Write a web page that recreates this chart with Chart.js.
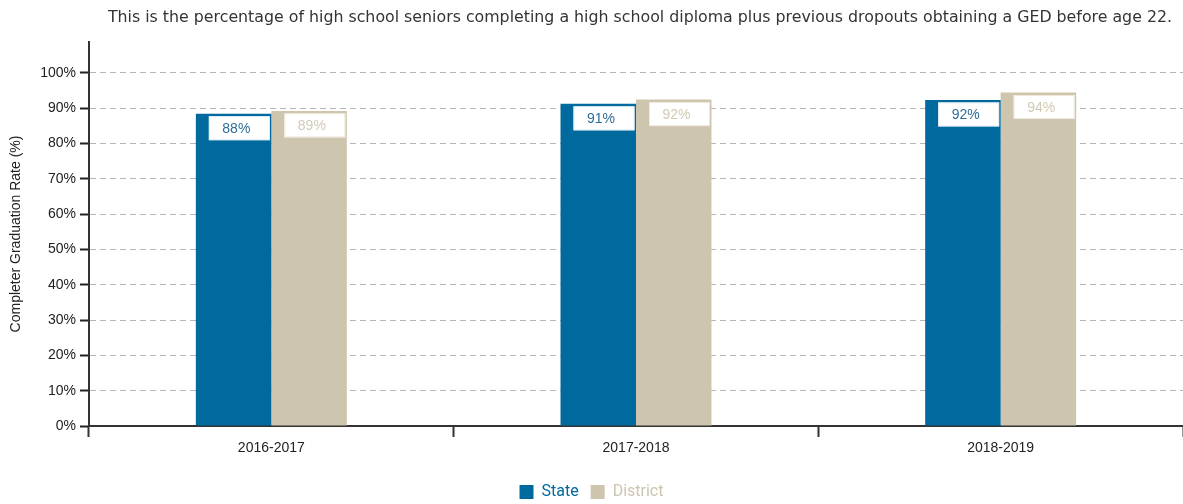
<!DOCTYPE html>
<html>
<head>
<meta charset="utf-8">
<script src="https://cdn.jsdelivr.net/npm/chart.js@4.4.1/dist/chart.umd.min.js"></script>
<style>
  body { margin: 0; background: #fff; }
  #wrap { width: 1183px; height: 504px; }
</style>
</head>
<body>
<div id="wrap"><canvas id="gradChart"></canvas></div>
<script>
// Data

let years = ["2016-2017", "2017-2018", "2018-2019"];
let stateRates = [88.4, 91.2, 92.3];
let districtRates = [89.2, 92.4, 94.4];
let yTickValues = [0, 10, 20, 30, 40, 50, 60, 70, 80, 90, 100];

let note = "This is the percentage of high school seniors completing a high school diploma plus previous dropouts obtaining a GED before age 22.";

let stateColor = "#006a9e";
let districtColor = "#cdc5ad";

// Subtitle drawn at the top right
let notePlugin = {
  id: "notePlugin",
  afterDraw(chart) {
    let ctx = chart.ctx;
    ctx.save();
    ctx.font = "15.8px 'DejaVu Sans'";
    ctx.fillStyle = "#333";
    ctx.textAlign = "right";
    ctx.textBaseline = "middle";
    ctx.fillText(note, 1172, 18);
    ctx.restore();
  },
};

// White value boxes at the top of each bar
let valueBoxPlugin = {
  id: "valueBoxPlugin",
  afterDatasetsDraw(chart) {
    let ctx = chart.ctx;
    chart.data.datasets.forEach((ds, i) => {
      let meta = chart.getDatasetMeta(i);
      meta.data.forEach((bar, j) => {
        let right = bar.x + bar.width / 2 - 1.5;
        let w = 61, h = 24;
        let x = right - w, y = bar.y + 2.5;
        ctx.save();
        ctx.fillStyle = "#fff";
        ctx.fillRect(x, y, w, h);
        ctx.strokeStyle = ds.boxBorder;
        ctx.lineWidth = 1;
        ctx.strokeRect(x + 0.5, y + 0.5, w - 1, h - 1);
        ctx.font = "14px 'Liberation Sans', Arial";
        ctx.fillStyle = ds.labelColor;
        ctx.textAlign = "center";
        ctx.textBaseline = "middle";
        ctx.fillText(Math.round(ds.data[j]) + "%", x + w / 2 - 3, y + h / 2 + 1);
        ctx.restore();
      });
    });
  },
};

var ctx = document.getElementById("gradChart").getContext("2d");
var gradChart = new Chart(ctx, {
  type: "bar",
  data: {
    labels: years,
    datasets: [
      {
        label: "State",
        data: stateRates,
        backgroundColor: stateColor,
        labelColor: "#2d6e99",
        boxBorder: "#e3eef4",
        categoryPercentage: 0.414,
        barPercentage: 1,
      },
      {
        label: "District",
        data: districtRates,
        backgroundColor: districtColor,
        labelColor: "#d2cab4",
        boxBorder: "#efe9da",
        categoryPercentage: 0.414,
        barPercentage: 1,
      },
    ],
  },
  options: {
    responsive: true,
    maintainAspectRatio: false,
    animation: false,
    layout: { padding: { top: 42, right: 0, bottom: -6, left: 0 } },
    plugins: {
      tooltip: { enabled: false },
      legend: {
        position: "bottom",
        labels: {
          boxWidth: 14,
          boxHeight: 14,
          padding: 12,
          font: { family: "Roboto", size: 16 },
          generateLabels(chart) {
            return chart.data.datasets.map((ds, i) => ({
              text: ds.label,
              fillStyle: ds.backgroundColor,
              strokeStyle: ds.backgroundColor,
              lineWidth: 0,
              fontColor: ds.backgroundColor,
              datasetIndex: i,
              hidden: false,
            }));
          },
        },
      },
    },
    scales: {
      x: {
        grid: {
          offset: true,
          drawOnChartArea: false,
          tickLength: 11,
          tickColor: "#333",
          tickWidth: 2,
        },
        border: { color: "#333", width: 2 },
        ticks: {
          color: "#222",
          padding: 3,
          font: { family: "'Liberation Sans', Arial", size: 14 },
        },
        afterFit(scale) {
          scale.height = 46;
        },
      },
      y: {
        min: 0,
        max: 108.7,
        afterBuildTicks(scale) {
          scale.ticks = yTickValues.map((v) => ({ value: v }));
        },
        grid: {
          color: "#b5b5b5",
          tickColor: "#222",
          tickLength: 9,
          tickWidth: 2,
        },
        border: { color: "#333", width: 2, dash: [6, 4] },
        ticks: {
          color: "#222",
          padding: 4,
          font: { family: "'Liberation Sans', Arial", size: 14 },
          callback: (v) => v + "%",
        },
        title: {
          display: true,
          text: "Completer Graduation Rate (%)",
          color: "#222",
          padding: { top: 8, bottom: 0 },
          font: { family: "'Liberation Sans', Arial", size: 14 },
        },
        afterFit(scale) {
          scale.width = 89;
        },
      },
    },
  },
  plugins: [notePlugin, valueBoxPlugin],
});
</script>
</body>
</html>
